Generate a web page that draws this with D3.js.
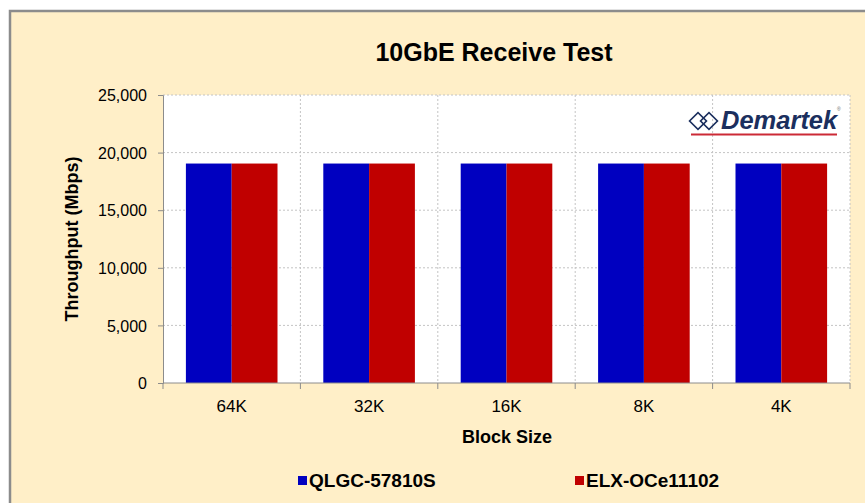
<!DOCTYPE html>
<html><head><meta charset="utf-8">
<script src="https://cdn.jsdelivr.net/npm/d3@7"></script>
<style>
html,body{margin:0;padding:0;background:#fff;}
svg{display:block;}
</style></head>
<body>
<script>
const categories = ["64K","32K","16K","8K","4K"];
const seriesNames = ["QLGC-57810S","ELX-OCe11102"];
const qlgcValues = [19050,19050,19050,19050,19050];
const elxValues = [19050,19050,19050,19050,19050];
const yTicks = [0,5000,10000,15000,20000,25000];
const seriesColors = ["#0000C0","#C00000"];

const W=865,H=503;
const svg=d3.select("body").append("svg").attr("width",W).attr("height",H);
const narrow="'Liberation Sans Narrow','Arial Narrow','Liberation Sans',sans-serif";

// chart background + border
svg.append("rect").attr("x",10).attr("y",11).attr("width",W+20).attr("height",H+20)
  .attr("fill","#FFEFC8").attr("stroke","#8c8c8c").attr("stroke-width",2.5);

const m={l:163,r:850,t:95,b:383};
const x0=d3.scaleBand().domain(categories).range([m.l,m.r]).padding(0);
const x1=d3.scaleBand().domain(seriesNames).range([0,x0.bandwidth()]).paddingInner(0).paddingOuter(0.5);
const y=d3.scaleLinear().domain([0,25000]).range([m.b,m.t]);

// plot area
svg.append("rect").attr("x",m.l).attr("y",m.t).attr("width",m.r-m.l).attr("height",m.b-m.t).attr("fill","#fff");

// horizontal gridlines
svg.append("g").selectAll("line").data(yTicks.filter(d=>d>0)).join("line")
  .attr("x1",m.l).attr("x2",m.r).attr("y1",d=>y(d)).attr("y2",d=>y(d))
  .attr("stroke","#c4c4c4").attr("stroke-dasharray","2,2").attr("stroke-width",1);
// vertical gridlines
const bounds=categories.map(c=>x0(c)).slice(1).concat([m.r]);
svg.append("g").selectAll("line").data(bounds).join("line")
  .attr("x1",d=>d).attr("x2",d=>d).attr("y1",m.t).attr("y2",m.b)
  .attr("stroke","#c4c4c4").attr("stroke-dasharray","2,2").attr("stroke-width",1);

// bars
const rows=categories.map((c,i)=>({cat:c,vals:[qlgcValues[i],elxValues[i]]}));
const g=svg.append("g");
rows.forEach(r=>{
  g.selectAll(null).data(seriesNames).join("rect")
   .attr("x",(s)=>x0(r.cat)+x1(s))
   .attr("width",x1.bandwidth())
   .attr("y",(s,i)=>y(r.vals[i]))
   .attr("height",(s,i)=>y(0)-y(r.vals[i]))
   .attr("fill",(s,i)=>seriesColors[i]);
});

// axes
const yAxis=d3.axisLeft(y).tickValues(yTicks).tickSize(5).tickPadding(11).tickFormat(d3.format(","));
const ya=svg.append("g").attr("transform",`translate(${m.l},0)`).call(yAxis);
ya.select(".domain").attr("stroke","#8c8c8c");
ya.selectAll(".tick line").attr("stroke","#8c8c8c");
ya.selectAll("text").attr("font-family","'Liberation Sans','Arial',sans-serif").attr("font-size",16).attr("fill","#000").attr("dy","0.35em");

const xAxis=d3.axisBottom(x0).tickSize(0).tickPadding(17);
const xa=svg.append("g").attr("transform",`translate(0,${m.b})`).call(xAxis);
xa.select(".domain").attr("stroke","#8c8c8c").attr("d",`M${m.l},0H${m.r}`);
xa.selectAll("text").attr("font-family",narrow).attr("font-size",17).attr("fill","#000");
// x boundary ticks
svg.append("g").selectAll("line").data([m.l].concat(bounds)).join("line")
  .attr("x1",d=>d).attr("x2",d=>d).attr("y1",m.b).attr("y2",m.b+6).attr("stroke","#8c8c8c");

// title
svg.append("text").attr("x",494).attr("y",61).attr("text-anchor","middle")
  .attr("font-family",narrow).attr("font-weight","bold").attr("font-size",25).text("10GbE Receive Test");
// axis titles
svg.append("text").attr("transform","translate(78,239) rotate(-90)").attr("text-anchor","middle")
  .attr("font-family","'Liberation Sans',Arial,sans-serif").attr("font-weight","bold").attr("font-size",18).text("Throughput (Mbps)");
svg.append("text").attr("x",507).attr("y",443).attr("text-anchor","middle")
  .attr("font-family",narrow).attr("font-weight","bold").attr("font-size",18).text("Block Size");

// legend
const legX=[298,575];
seriesNames.forEach((s,i)=>{
  svg.append("rect").attr("x",legX[i]).attr("y",476).attr("width",9).attr("height",9).attr("fill",seriesColors[i]);
  svg.append("text").attr("x",legX[i]+11).attr("y",487).attr("font-family",narrow)
    .attr("font-weight","bold").attr("font-size",19).text(s);
});

// Demartek logo
const lg=svg.append("g");
const ic=[[698,121],[709,121]];
ic.forEach(([cx,cy])=>{
  lg.append("rect").attr("x",cx-6).attr("y",cy-6).attr("width",12).attr("height",12)
   .attr("transform",`rotate(45,${cx},${cy})`).attr("fill","none").attr("stroke","#1b2f5e").attr("stroke-width",1.6);
});
lg.append("text").attr("x",721).attr("y",129).attr("font-family","'Liberation Sans',Arial,sans-serif")
  .attr("font-weight","bold").attr("font-style","italic").attr("font-size",25.5).attr("fill","#1b2f5e").text("Demartek");
lg.append("text").attr("x",837).attr("y",111).attr("font-family","Arial,sans-serif").attr("font-size",5).attr("fill","#666").text("®");
lg.append("line").attr("x1",691).attr("x2",837).attr("y1",134.5).attr("y2",134.5).attr("stroke","#cc2a36").attr("stroke-width",2);
</script>
</body></html>
